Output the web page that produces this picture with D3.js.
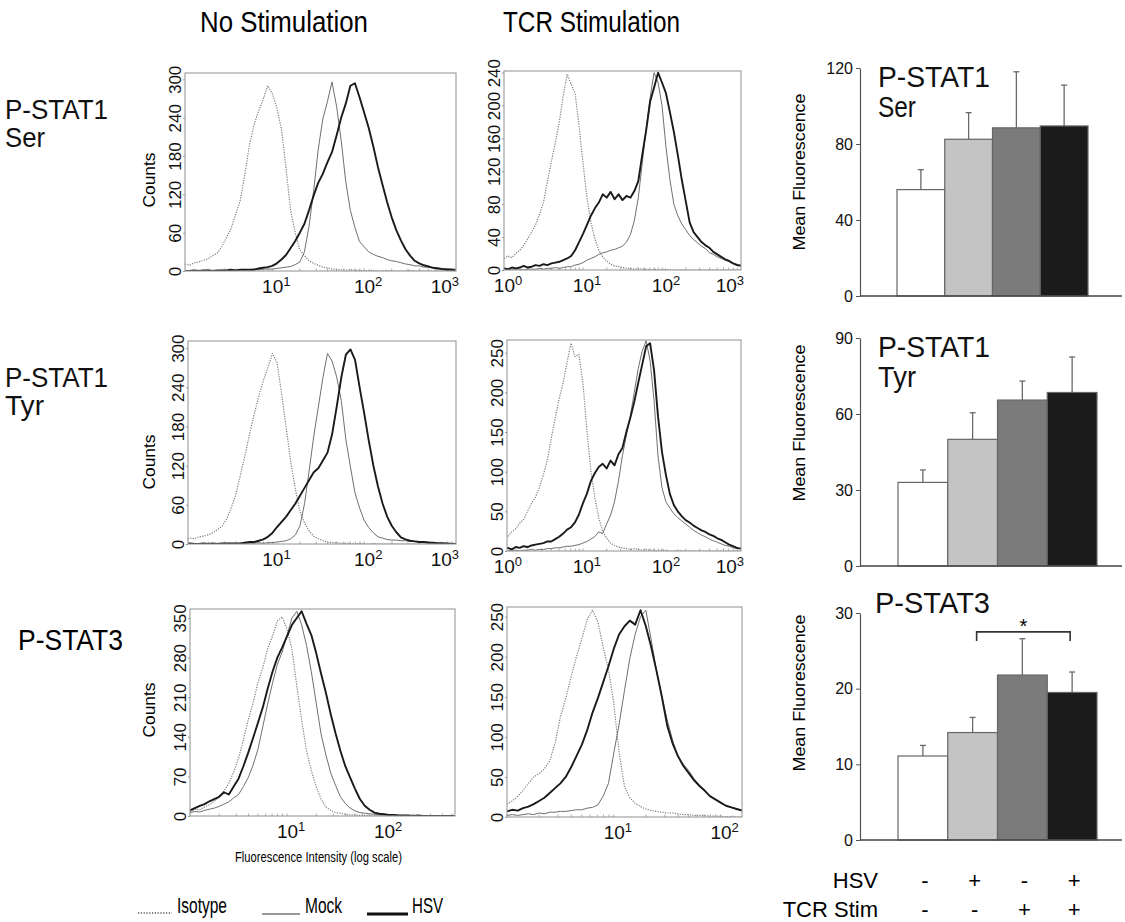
<!DOCTYPE html>
<html><head><meta charset="utf-8">
<script src="https://cdn.jsdelivr.net/npm/d3@7"></script>
<style>body{margin:0;background:#fff}svg{display:block}</style>
</head><body>
<svg id="fig" width="1125" height="922"></svg>
<script>
// ---------------- DATA ----------------
// histogram channels: counts every 0.05 decade starting at 10^0
const LOG_STEP = 0.05;

// P-STAT1 Ser, no stimulation
const serNoIso  = [8,11,9,13,14,17,19,24,28,38,52,66,88,110,150,196,228,250,268,290,278,255,222,160,95,60,33,24,16,12,9,6,5,3,2,2,1,2,1,1,0,1,1,0,0,1,0,0,0,0,1,0,0,0,0,0,0,0,0,0,0];
const serNoMock = [0,0,1,0,1,0,1,1,0,1,1,2,1,2,2,2,3,2,3,3,3,4,5,6,7,10,14,30,70,125,190,238,265,296,258,205,140,95,68,46,38,30,26,23,21,18,16,15,13,11,10,8,8,6,6,5,5,4,4,3,3];
const serNoHsv  = [0,0,0,1,0,1,1,0,1,1,1,2,1,2,2,2,2,4,5,6,8,12,18,25,36,47,60,74,95,118,138,152,170,186,212,240,262,290,294,272,248,224,195,163,135,108,84,64,48,34,24,16,12,9,7,5,4,3,2,2,1];
// P-STAT1 Ser, TCR stimulation
const serTcrIso  = [14,17,15,20,24,30,38,46,55,68,82,108,132,155,180,212,238,226,215,175,130,88,58,38,24,16,11,7,5,4,3,2,2,1,2,1,1,0,1,0,0,1,0,0,0,0,0,0,0,0,0,0,0,0,0,0,0,0,0,0,0];
const serTcrMock = [0,1,0,1,1,0,1,1,1,2,1,2,2,3,2,3,4,4,6,7,9,12,14,16,19,21,22,24,25,27,29,34,43,60,88,130,172,210,240,228,200,150,110,80,66,56,49,42,37,33,29,26,21,19,16,14,12,10,8,7,6];
const serTcrHsv  = [2,1,3,2,3,5,3,4,6,5,7,6,8,9,10,12,14,17,24,34,44,55,66,75,82,92,88,95,86,92,85,90,88,96,108,140,170,205,222,240,228,215,192,168,140,110,84,58,46,40,34,30,27,22,19,16,13,11,8,6,5];
// P-STAT1 Tyr, no stimulation
const tyrNoIso  = [7,6,9,8,11,12,14,17,22,27,38,55,75,105,135,168,198,226,250,270,292,278,230,178,125,84,50,32,20,12,8,5,3,2,2,1,1,1,0,1,0,0,1,0,0,0,0,0,0,0,0,0,0,0,0,0,0,0,0,0,0];
const tyrNoMock = [0,0,0,1,0,0,1,0,1,0,1,1,0,1,1,1,1,2,1,2,2,3,4,5,8,14,28,62,112,165,210,255,292,280,256,220,160,118,78,55,36,25,17,11,9,7,6,6,5,5,4,4,3,3,3,2,2,2,1,1,1];
const tyrNoHsv  = [0,0,1,0,0,1,0,1,0,1,1,1,1,1,2,3,3,5,7,11,17,26,34,42,52,62,74,86,98,110,116,128,140,168,210,255,290,298,282,240,200,158,120,88,62,42,28,18,10,7,5,4,3,3,2,2,1,1,1,0,0];
// P-STAT1 Tyr, TCR stimulation
const tyrTcrIso  = [15,18,24,28,35,40,50,60,68,80,96,115,142,168,192,212,238,262,245,248,212,153,102,68,42,25,16,10,7,5,4,3,2,3,2,1,2,1,1,0,1,1,0,0,1,0,0,0,0,0,0,0,0,0,0,0,0,0,0,0,0];
const tyrTcrMock = [1,0,1,1,0,1,1,2,1,2,2,3,3,4,4,5,6,6,7,8,10,12,15,18,24,22,34,45,62,88,120,146,170,200,230,252,265,240,190,120,80,62,54,47,42,38,34,30,26,23,20,18,15,13,11,9,7,6,4,3,3];
const tyrTcrHsv  = [3,4,2,5,4,6,5,7,8,9,10,12,12,15,18,22,27,30,36,46,60,72,88,98,106,110,104,114,108,122,130,150,168,188,212,235,258,262,228,170,125,96,72,58,50,44,39,36,32,29,26,24,21,19,16,14,11,8,6,4,3];
// P-STAT3, no stimulation
const st3NoIso  = [8,12,11,16,20,26,34,44,58,78,102,135,170,200,236,262,296,318,345,352,330,295,230,170,115,80,52,30,16,10,6,5,3,2,2,1,1,1,0,1,0,0,0,0,0,0,0,0,0,0,0,0,0,0,0,0];
const st3NoMock = [6,8,7,10,12,14,17,21,25,32,38,52,68,90,118,158,198,235,268,290,320,350,362,338,302,255,200,145,108,76,54,34,22,14,9,6,5,4,3,2,2,1,2,1,1,1,0,1,0,0,1,0,0,0,0,0];
const st3NoHsv  = [10,14,18,21,26,30,34,42,38,52,66,88,112,138,165,192,225,255,280,298,318,338,350,362,340,320,288,252,218,180,146,115,88,68,48,30,18,11,6,4,3,2,2,1,1,1,0,1,0,0,0,0,0,0,0,0];
// P-STAT3, TCR stimulation
const st3TcrIso  = [16,20,26,33,42,50,54,60,70,92,125,148,175,200,222,246,258,244,212,184,142,80,38,24,17,13,10,8,7,6,5,5,4,3,3,2,2,2,1,1,1,0,1,0,0];
const st3TcrMock = [2,3,2,3,4,3,5,4,6,6,7,7,8,9,9,11,12,15,26,42,80,116,158,198,228,250,258,221,182,150,121,96,75,66,58,48,40,33,26,22,18,14,12,10,8];
const st3TcrHsv  = [7,9,8,11,13,16,20,24,30,36,42,50,62,76,90,108,130,148,168,188,210,228,238,245,240,258,238,212,182,150,114,92,76,64,55,46,39,33,26,22,18,14,12,10,8];

// axis tick values
const countTicks300 = [0,60,120,180,240,300];
const countTicks240 = [0,40,80,120,160,200,240];
const countTicks250 = [0,50,100,150,200,250];
const countTicks350 = [0,70,140,210,280,350];
const decadesNoStim = [1,2,3];
const decadesTcr = [0,1,2,3];
const decadesStat3 = [1,2];

// bar charts
const conditions = ["Mock","HSV","TCR Stim","HSV + TCR Stim"];
const hsvSigns = ["-","+","-","+"];
const tcrSigns = ["-","-","+","+"];
const serMean = [56, 82.5, 88.5, 89.5];
const serSem  = [10.5, 14, 29.5, 21.5];
const tyrMean = [33, 50, 65.5, 68.5];
const tyrSem  = [4.9, 10.5, 7.5, 14];
const st3Mean = [11.1, 14.2, 21.8, 19.5];
const st3Sem  = [1.4, 2.0, 4.8, 2.7];
const serTicks = [0,40,80,120];
const tyrTicks = [0,30,60,90];
const st3Ticks = [0,10,20,30];
const st3Sig = {from:1, to:3, level:27.5, label:"*"};

// ---------------- DRAWING ----------------
const NARROW = "'Liberation Sans Narrow','Arial Narrow','Liberation Sans',Arial,sans-serif";
const SANS = "'Liberation Sans',Arial,Helvetica,sans-serif";
const svg = d3.select("#fig");

const histLayout = [
 {curves:[serNoIso,serNoMock,serNoHsv], left:185,right:456,top:73,bottom:271, logMin:0.05,logMax:3, yMax:310, yTicks:countTicks300, decades:decadesNoStim, countsY:180},
 {curves:[serTcrIso,serTcrMock,serTcrHsv], left:504,right:741,top:71,bottom:270, logMin:0,logMax:3, yMax:242, yTicks:countTicks240, decades:decadesTcr},
 {curves:[tyrNoIso,tyrNoMock,tyrNoHsv], left:188,right:456,top:341,bottom:544, logMin:0.08,logMax:3, yMax:311, yTicks:countTicks300, decades:decadesNoStim, countsY:462},
 {curves:[tyrTcrIso,tyrTcrMock,tyrTcrHsv], left:507,right:741,top:340,bottom:551, logMin:0.04,logMax:3, yMax:266, yTicks:countTicks250, decades:decadesTcr},
 {curves:[st3NoIso,st3NoMock,st3NoHsv], left:190,right:455,top:609,bottom:816, logMin:0,logMax:2.73, yMax:366, yTicks:countTicks350, decades:decadesStat3, countsY:710},
 {curves:[st3TcrIso,st3TcrMock,st3TcrHsv], left:507,right:742,top:607,bottom:817, logMin:0,logMax:2.2, yMax:262, yTicks:countTicks250, decades:decadesStat3}
];
const curveStyles = [
 {stroke:"#7e7e7e", width:1.2, dash:"1.2,1.3"},
 {stroke:"#707070", width:1.0, dash:null},
 {stroke:"#1a1a1a", width:1.9, dash:null}
];

histLayout.forEach((p,pi)=>{
  const x = d3.scaleLog().domain([10**p.logMin, 10**p.logMax]).range([p.left,p.right]);
  const y = d3.scaleLinear().domain([0,p.yMax]).range([p.bottom,p.top]);
  const g = svg.append("g");
  const cid = "clip"+pi;
  svg.append("clipPath").attr("id",cid).append("rect")
    .attr("x",p.left).attr("y",p.top).attr("width",p.right-p.left).attr("height",p.bottom-p.top);
  // minor log ticks along bottom
  const minor = [];
  for(let d=Math.floor(p.logMin); d<Math.ceil(p.logMax); d++) for(let k=1;k<10;k++){const v=k*10**d; if(v>=10**p.logMin && v<=10**p.logMax) minor.push(v);}
  g.selectAll("line.minor").data(minor).join("line").attr("class","minor")
    .attr("x1",d=>x(d)).attr("x2",d=>x(d)).attr("y1",p.bottom).attr("y2",p.bottom-2.5)
    .attr("stroke","#999").attr("stroke-width",0.8);
  // curves
  const cg = g.append("g").attr("clip-path",`url(#${cid})`);
  p.curves.forEach((arr,ci)=>{
    const st = curveStyles[ci];
    const line = d3.line().x((d,i)=>x(10**(i*LOG_STEP))).y(d=>y(d));
    cg.append("path").datum(arr).attr("d",line).attr("fill","none")
      .attr("stroke",st.stroke).attr("stroke-width",st.width)
      .attr("stroke-linejoin","round")
      .attr("stroke-dasharray",st.dash);
  });
  // frame
  g.append("rect").attr("x",p.left).attr("y",p.top).attr("width",p.right-p.left).attr("height",p.bottom-p.top)
    .attr("fill","none").attr("stroke","#9a9a9a").attr("stroke-width",1.1);
  // y axis
  const ya = g.append("g").attr("transform",`translate(${p.left},0)`)
    .call(d3.axisLeft(y).tickValues(p.yTicks).tickSize(2).tickSizeOuter(0));
  ya.select(".domain").remove();
  ya.selectAll(".tick line").attr("stroke","#999");
  ya.selectAll(".tick text").attr("transform","rotate(-90)").attr("x",0).attr("y",-10).attr("dy","0.36em")
    .attr("text-anchor","middle").style("font-family",NARROW).style("font-size","17px").attr("fill","#111");
  // x labels 10^n
  const xl = g.selectAll("text.xt").data(p.decades).join("text").attr("class","xt")
    .attr("x",d=> d===p.logMax ? x(10**d)+3 : x(10**d)+4)
    .attr("y",p.bottom+22)
    .attr("text-anchor",d=> d===p.logMax ? "end" : "middle")
    .style("font-family",NARROW).style("font-size","19px").attr("fill","#111");
  xl.append("tspan").text("10");
  xl.append("tspan").attr("dy",-7).style("font-size","13px").text(d=>d);
  if(p.countsY){
    g.append("text").attr("transform",`translate(149,${p.countsY}) rotate(-90)`).attr("dy","0.36em")
      .attr("text-anchor","middle").style("font-family",SANS).style("font-size","17px")
      .attr("textLength",55).attr("lengthAdjust","spacingAndGlyphs").text("Counts");
  }
});

// multi-line label helper: one text element, one tspan per line
function multiLine(parent, lines, x, y, gap, size){
  const t = parent.append("text").attr("x",x).attr("y",y)
    .style("font-family",SANS).style("font-size",size+"px").attr("fill","#111");
  lines.forEach((l,i)=>{
    t.append("tspan").attr("x",x).attr("dy",i===0?0:gap)
      .attr("textLength",l.len).attr("lengthAdjust","spacingAndGlyphs").text(l.t);
  });
  return t;
}

// bar charts
const barLayout = [
 {mean:serMean, sem:serSem, ticks:serTicks, yMax:120, axisX:860, left:897, right:1088, top:68, bottom:296, labelY:172,
  title:[{t:"P-STAT1",len:112},{t:"Ser",len:38}], titleX:878, titleY:87},
 {mean:tyrMean, sem:tyrSem, ticks:tyrTicks, yMax:90, axisX:860, left:898, right:1097, top:338, bottom:566, labelY:423,
  title:[{t:"P-STAT1",len:112},{t:"Tyr",len:38}], titleX:878, titleY:357},
 {mean:st3Mean, sem:st3Sem, ticks:st3Ticks, yMax:30, axisX:860, left:898, right:1097, top:613, bottom:840, labelY:693,
  title:[{t:"P-STAT3",len:115}], titleX:875, titleY:613, sig:st3Sig}
];
const barFills = ["#ffffff","#c4c4c4","#7b7b7b","#1b1b1b"];
let lastX = null;
barLayout.forEach(b=>{
  const g = svg.append("g");
  const x = d3.scaleBand().domain(conditions).range([b.left,b.right]).padding(0);
  const y = d3.scaleLinear().domain([0,b.yMax]).range([b.bottom,b.top]);
  lastX = x;
  // error bars (behind bars)
  g.selectAll("line.err").data(conditions).join("line").attr("class","err")
    .attr("x1",d=>x(d)+x.bandwidth()/2).attr("x2",d=>x(d)+x.bandwidth()/2)
    .attr("y1",(d,i)=>y(b.mean[i])).attr("y2",(d,i)=>y(b.mean[i]+b.sem[i]))
    .attr("stroke","#6a6a6a").attr("stroke-width",1.3);
  g.selectAll("line.cap").data(conditions).join("line").attr("class","cap")
    .attr("x1",d=>x(d)+x.bandwidth()/2-3).attr("x2",d=>x(d)+x.bandwidth()/2+3)
    .attr("y1",(d,i)=>y(b.mean[i]+b.sem[i])).attr("y2",(d,i)=>y(b.mean[i]+b.sem[i]))
    .attr("stroke","#6a6a6a").attr("stroke-width",1.3);
  g.selectAll("rect.bar").data(conditions).join("rect").attr("class","bar")
    .attr("x",d=>x(d)).attr("width",x.bandwidth())
    .attr("y",(d,i)=>y(b.mean[i])).attr("height",(d,i)=>y(0)-y(b.mean[i]))
    .attr("fill",(d,i)=>barFills[i]).attr("stroke","#666").attr("stroke-width",1.2);
  // axes
  const ya = g.append("g").attr("transform",`translate(${b.axisX},0)`)
    .call(d3.axisLeft(y).tickValues(b.ticks).tickSize(4).tickPadding(3).tickSizeOuter(0));
  ya.select(".domain").attr("stroke","#555").attr("stroke-width",1.2);
  ya.selectAll(".tick line").attr("stroke","#555");
  ya.selectAll(".tick text").style("font-family",SANS).style("font-size","16px").attr("fill","#111");
  g.append("line").attr("x1",b.axisX).attr("x2",1122).attr("y1",y(0)).attr("y2",y(0))
    .attr("stroke","#444").attr("stroke-width",1.3);
  g.append("text").attr("transform",`translate(799,${b.labelY}) rotate(-90)`).attr("dy","0.36em")
    .attr("text-anchor","middle").style("font-family",SANS).style("font-size","17px")
    .attr("textLength",157).attr("lengthAdjust","spacingAndGlyphs").text("Mean Fluorescence");
  multiLine(g, b.title, b.titleX, b.titleY, 30, 30);
  if(b.sig){
    const x1 = x(conditions[b.sig.from])+x.bandwidth()/2+4, x2 = x(conditions[b.sig.to])+x.bandwidth()/2-2;
    const ys = y(b.sig.level);
    g.append("path").attr("d",`M${x1},${ys+9}V${ys}H${x2}V${ys+9}`).attr("fill","none")
      .attr("stroke","#333").attr("stroke-width",1.6);
    g.append("text").attr("x",(x1+x2)/2).attr("y",ys+1).attr("text-anchor","middle")
      .style("font-family",SANS).style("font-size","20px").text(b.sig.label);
  }
});
// HSV / TCR Stim sign rows
const signG = svg.append("g").style("font-family",SANS).style("font-size","22px");
signG.append("text").attr("x",878).attr("y",888).attr("text-anchor","end").text("HSV");
signG.append("text").attr("x",878).attr("y",917).attr("text-anchor","end").text("TCR Stim");
signG.selectAll("text.hs").data(conditions).join("text").attr("class","hs")
  .attr("x",d=>lastX(d)+lastX.bandwidth()/2+2).attr("y",888).attr("text-anchor","middle").text((d,i)=>hsvSigns[i]);
signG.selectAll("text.ts").data(conditions).join("text").attr("class","ts")
  .attr("x",d=>lastX(d)+lastX.bandwidth()/2+2).attr("y",917).attr("text-anchor","middle").text((d,i)=>tcrSigns[i]);

// titles and row labels
const T = (txt,x,y,size,len)=>svg.append("text").attr("x",x).attr("y",y)
  .style("font-family",SANS).style("font-size",size+"px")
  .attr("textLength",len).attr("lengthAdjust","spacingAndGlyphs").text(txt);
T("No Stimulation",200,32,29,168);
T("TCR Stimulation",503,32,29,177);
multiLine(svg, [{t:"P-STAT1",len:103},{t:"Ser",len:40}], 5, 119, 28, 27);
multiLine(svg, [{t:"P-STAT1",len:103},{t:"Tyr",len:39}], 5, 387, 28, 27);
T("P-STAT3",18,650,29,105);
T("Fluorescence Intensity (log scale)",235,862,14,167);

// legend
const lg = svg.append("g");
lg.append("line").attr("x1",138).attr("x2",172).attr("y1",913).attr("y2",913)
  .attr("stroke","#555").attr("stroke-width",1.6).attr("stroke-dasharray","1.2,1.6");
lg.append("line").attr("x1",262).attr("x2",300).attr("y1",914).attr("y2",914).attr("stroke","#777").attr("stroke-width",1.6);
lg.append("line").attr("x1",367).attr("x2",408).attr("y1",914).attr("y2",914).attr("stroke","#111").attr("stroke-width",2.8);
T("Isotype",177,913,22,50); T("Mock",305,913,22,37); T("HSV",412,913,22,31);
</script>
</body></html>
